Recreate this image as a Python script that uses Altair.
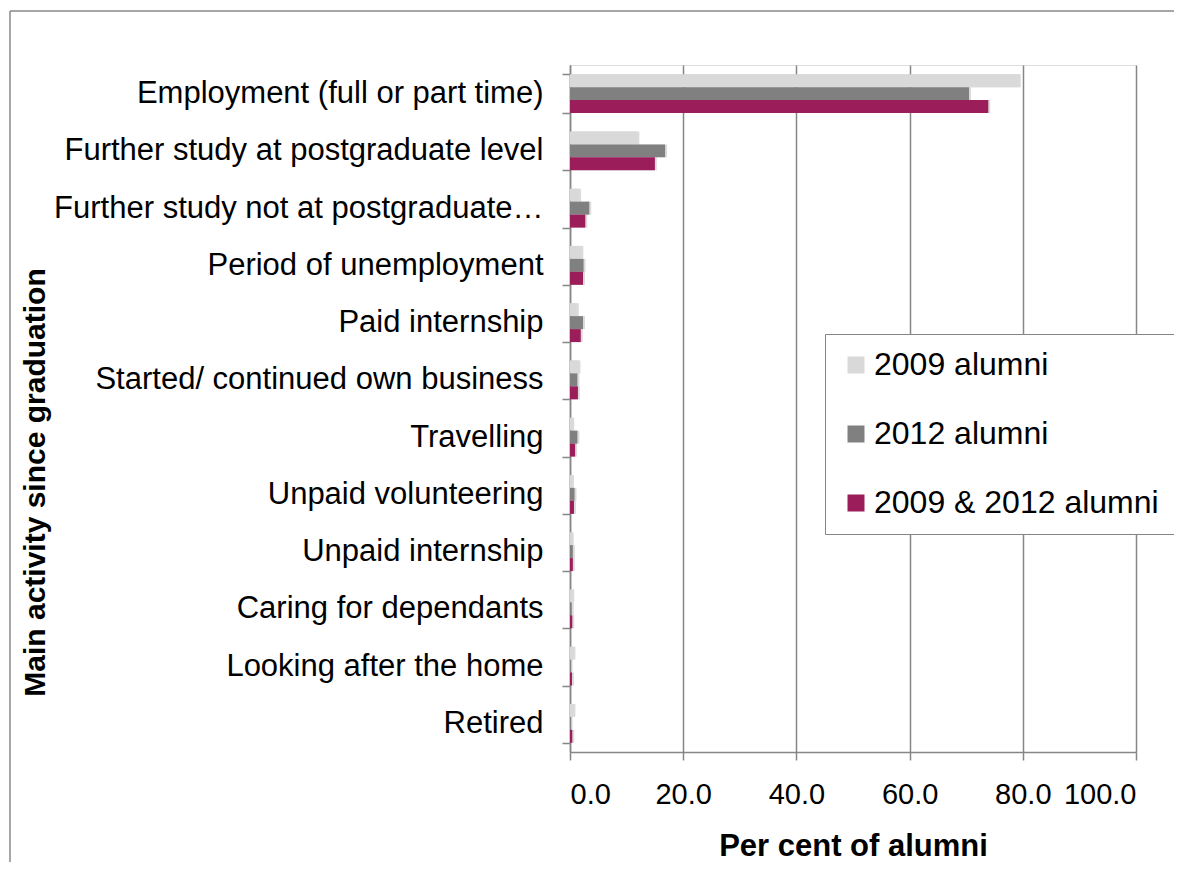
import altair as alt
import pandas as pd

categories = [
    "Employment (full or part time)",
    "Further study at postgraduate level",
    "Further study not at postgraduate level",
    "Period of unemployment",
    "Paid internship",
    "Started/ continued own business",
    "Travelling",
    "Unpaid volunteering",
    "Unpaid internship",
    "Caring for dependants",
    "Looking after the home",
    "Retired",
]
series = ["2009 alumni", "2012 alumni", "2009 & 2012 alumni"]
alumni_2009 = [79.3, 11.9, 1.6, 2.0, 1.2, 1.5, 0.4, 0.35, 0.3, 0.4, 0.6, 0.6]
alumni_2012 = [70.5, 16.8, 3.4, 2.4, 2.3, 1.3, 1.3, 0.8, 0.5, 0.3, 0.1, 0.1]
alumni_both = [73.9, 15.0, 2.7, 2.3, 1.9, 1.4, 0.9, 0.7, 0.5, 0.4, 0.35, 0.4]
colors = ["#D9D9D9", "#808080", "#9B1D5A"]

rows = []
for vals, s in zip([alumni_2009, alumni_2012, alumni_both], series):
    for c, v in zip(categories, vals):
        rows.append({"activity": c, "series": s, "value": v})
df = pd.DataFrame(rows)

FONT = "Liberation Sans"
FS = 31
W, H = 566, 687

x_enc = alt.X("value:Q",
              scale=alt.Scale(domain=[0, 100], nice=False),
              axis=alt.Axis(values=[0, 20, 40, 60, 80, 100], format=".1f",
                            title="Per cent of alumni",
                            grid=True, gridColor="#868686", gridWidth=1.5,
                            domainColor="#868686", domainWidth=1.5,
                            tickColor="#868686", tickWidth=1.5, tickSize=8,
                            labelFontSize=29, labelFont=FONT, labelColor="black",
                            labelPadding=20,
                            titleFontSize=FS, titleFont=FONT, titleFontWeight="bold",
                            titleColor="black", titlePadding=22))
y_enc = alt.Y("activity:N", sort=categories,
              scale=alt.Scale(paddingInner=0.32, paddingOuter=0.16),
              axis=alt.Axis(title="Main activity since graduation",
                            tickBand="extent",
                            domainColor="#868686", domainWidth=1.5,
                            tickColor="#868686", tickWidth=1.5, tickSize=8,
                            labelFontSize=FS, labelFont=FONT, labelColor="black",
                            labelPadding=19, labelLimit=490,
                            titleFontSize=30, titleFont=FONT, titleFontWeight="bold",
                            titleColor="black", titleAngle=-90,
                            titleX=-535, titleY=417, titleAlign="center",
                            titleBaseline="middle"))
yoff_enc = alt.YOffset("series:N", sort=series,
                       scale=alt.Scale(paddingInner=0, paddingOuter=0))

base = alt.Chart(df)

shadow = base.mark_bar(color="#000000", opacity=0.14, xOffset=2, yOffset=3).encode(
    x=x_enc, y=y_enc, yOffset=yoff_enc)

bars = base.mark_bar().encode(
    x=x_enc, y=y_enc, yOffset=yoff_enc,
    color=alt.Color("series:N", sort=series,
                    scale=alt.Scale(domain=series, range=colors),
                    legend=alt.Legend(title=None, orient="none",
                                      legendX=255, legendY=269,
                                      direction="vertical",
                                      labelFont=FONT, labelFontSize=32,
                                      labelColor="black", labelLimit=400,
                                      symbolType="square", symbolSize=289,
                                      symbolStrokeWidth=0,
                                      rowPadding=37, padding=15,
                                      labelOffset=2,
                                      strokeColor="#868686",
                                      fillColor="white")),
)

frame_top = alt.Chart().mark_rule(color="#888888", strokeWidth=1.5).encode(
    x=alt.value(-560), x2=alt.value(640), y=alt.value(-54))
frame_left = alt.Chart().mark_rule(color="#888888", strokeWidth=1.5).encode(
    x=alt.value(-560), y=alt.value(-54), y2=alt.value(820))

chart = alt.layer(shadow, bars, frame_top, frame_left).properties(
    width=W, height=H,
    autosize=alt.AutoSizeParams(type="none"),
    padding={"left": 562, "top": 57, "right": 38, "bottom": 110},
).configure_view(stroke=None).configure(background="white")

chart.save("out.html", embed_options={"renderer": "svg", "actions": False})
